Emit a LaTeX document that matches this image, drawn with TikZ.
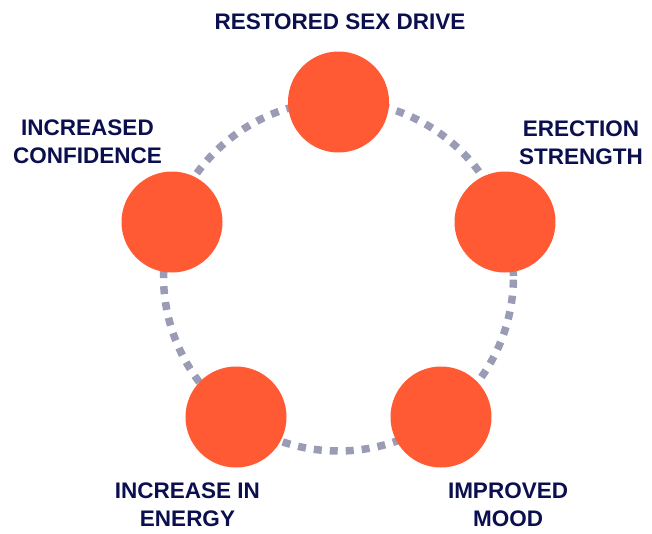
\documentclass[tikz,border=0pt]{standalone}
\usepackage{fontspec}
\setmainfont{Liberation Sans}
\definecolor{dotorange}{HTML}{FF5A33}
\definecolor{ringgrey}{HTML}{9A9CB6}
\definecolor{navytext}{HTML}{0B0F4E}
\begin{document}
\begin{tikzpicture}[x=1pt,y=-1pt,
  dot/.style={circle,fill=dotorange,draw=none,minimum size=101pt,inner sep=0pt},
  lbl/.style={font=\fontsize{22.5}{28}\selectfont\bfseries,text=navytext,align=center,inner sep=0pt},
  ring/.style={draw=ringgrey,line width=7.5pt,dash pattern=on 8pt off 8pt}]
\useasboundingbox (0,0) rectangle (652,533);
\coordinate (c) at (338.5,276);
\draw[ring] (c) circle[radius=175pt];
\node[dot] (top) at (338.5,102) {};
\node[dot] (right) at (505,222) {};
\node[dot] (left) at (172,222) {};
\node[dot] (bl) at (236,417) {};
\node[dot] (br) at (441,417) {};
\node[lbl] (ttop) at (340,21.5) {RESTORED SEX DRIVE};
\node[lbl] (tleft) at (87.5,142) {INCREASED\\CONFIDENCE};
\node[lbl] (tright) at (581,142.5) {ERECTION\\STRENGTH};
\node[lbl] (tbl) at (187.5,505) {INCREASE IN\\ENERGY};
\node[lbl] (tbr) at (508,505) {IMPROVED\\MOOD};
\end{tikzpicture}
\end{document}
